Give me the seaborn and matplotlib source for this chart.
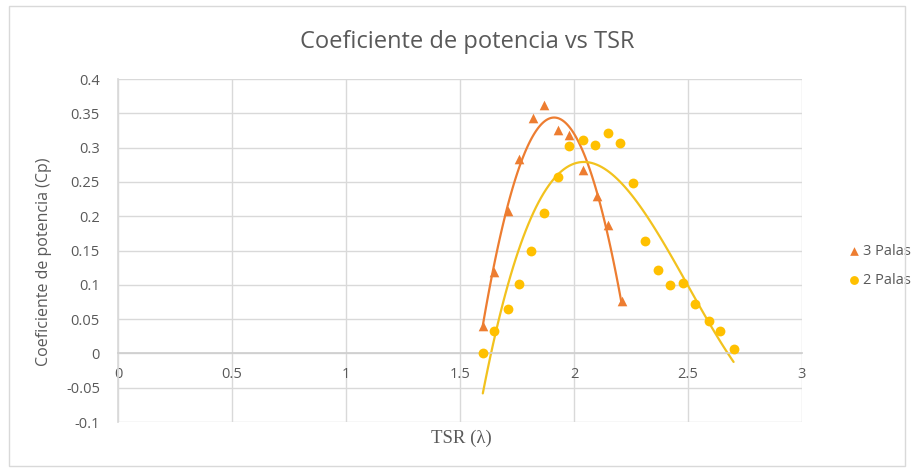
import numpy as np
import pandas as pd
import matplotlib
matplotlib.use("Agg")
import matplotlib.pyplot as plt
from matplotlib.patches import Rectangle
import seaborn as sns

# Measured power coefficient vs tip speed ratio
tsr_3 = [1.60, 1.65, 1.71, 1.76, 1.82, 1.87, 1.93, 1.98, 2.04, 2.10, 2.15, 2.21]
cp_3 = [0.040, 0.118, 0.207, 0.283, 0.343, 0.362, 0.325, 0.319, 0.267, 0.229, 0.187, 0.076]

tsr_2 = [1.60, 1.65, 1.71, 1.76, 1.81, 1.87, 1.93, 1.98, 2.04, 2.09, 2.15,
         2.20, 2.26, 2.31, 2.37, 2.42, 2.48, 2.53, 2.59, 2.64, 2.70]
cp_2 = [0.000, 0.032, 0.065, 0.101, 0.150, 0.205, 0.257, 0.302, 0.311, 0.304, 0.321,
        0.307, 0.248, 0.164, 0.121, 0.099, 0.103, 0.072, 0.047, 0.033, 0.007]

series_labels = ["3 Palas", "2 Palas"]
x_ticks = [0, 0.5, 1, 1.5, 2, 2.5, 3]
x_tick_labels = ["0", "0.5", "1", "1.5", "2", "2.5", "3"]
y_ticks = [-0.1, -0.05, 0, 0.05, 0.1, 0.15, 0.2, 0.25, 0.3, 0.35, 0.4]
y_tick_labels = ["-0.1", "-0.05", "0", "0.05", "0.1", "0.15", "0.2", "0.25", "0.3", "0.35", "0.4"]

df3 = pd.DataFrame({"tsr": tsr_3, "cp": cp_3})
df2 = pd.DataFrame({"tsr": tsr_2, "cp": cp_2})

sns.set_theme(style="white")
plt.rcParams["font.family"] = ["Open Sans", "DejaVu Sans"]

TEXT = "#595959"
GRID = "#D9D9D9"
ORANGE = "#ED7D31"
YELLOW = "#FFC000"

fig = plt.figure(figsize=(9.11, 4.71), dpi=100)
ax = fig.add_axes([118 / 911, 1 - 422 / 471, (802 - 118) / 911, (422 - 79) / 471])

# Polynomial trendlines
sns.regplot(data=df3, x="tsr", y="cp", order=2, ci=None, scatter=False, truncate=True,
            line_kws={"color": ORANGE, "lw": 1.6}, ax=ax)
sns.regplot(data=df2, x="tsr", y="cp", order=3, ci=None, scatter=False, truncate=True,
            line_kws={"color": "#F2C21E", "lw": 1.6}, ax=ax)

# Measured points
sns.scatterplot(data=df3, x="tsr", y="cp", marker="^", s=48, color=ORANGE,
                edgecolor=ORANGE, linewidth=0, label=series_labels[0], ax=ax, zorder=3)
sns.scatterplot(data=df2, x="tsr", y="cp", marker="o", s=50, color=YELLOW,
                edgecolor=YELLOW, linewidth=0, label=series_labels[1], ax=ax, zorder=3)

ax.set_xlim(0, 3)
ax.set_ylim(-0.1, 0.4)
ax.set_xticks(x_ticks)
ax.set_xticklabels(x_tick_labels)
ax.set_yticks(y_ticks)
ax.set_yticklabels(y_tick_labels)

ax.grid(True, color=GRID, lw=1)
ax.set_axisbelow(True)
for side in ["top", "right"]:
    ax.spines[side].set_visible(False)
ax.spines["left"].set_color(GRID)
ax.spines["bottom"].set_color("#CFCFCF")
ax.spines["bottom"].set_position(("data", 0))
ax.tick_params(axis="both", length=0, colors=TEXT, labelsize=10.5)
ax.tick_params(axis="y", pad=13)
ax.tick_params(axis="x", pad=10)

ax.set_xlabel("")
ax.set_ylabel("")
fig.text(461 / 911, 1 - 438 / 471, "TSR (λ)", ha="center", va="center",
         color=TEXT, fontsize=13.5, family=["Liberation Serif", "DejaVu Serif"])
fig.text(44 / 911, 1 - 262 / 471, "Coeficiente de potencia (Cp)", ha="center", va="center",
         rotation=90, color=TEXT, fontsize=11.5)
fig.text(467 / 911, 1 - 42 / 471, "Coeficiente de potencia vs TSR", ha="center", va="center",
         color=TEXT, fontsize=17)

leg = ax.legend(loc="center left", bbox_to_anchor=(834 / 911, 1 - 266 / 471),
                bbox_transform=fig.transFigure, frameon=False, handletextpad=0.1,
                labelspacing=1.0, fontsize=10.5, handlelength=1.0, markerscale=0.9)
for t in leg.get_texts():
    t.set_color(TEXT)

fig.patches.append(Rectangle((9 / 911, 1 - 466 / 471), (905 - 9) / 911, (466 - 6) / 471,
                             transform=fig.transFigure, fill=False, edgecolor=GRID, lw=1))

fig.savefig("out.png", dpi=100, facecolor="white")
